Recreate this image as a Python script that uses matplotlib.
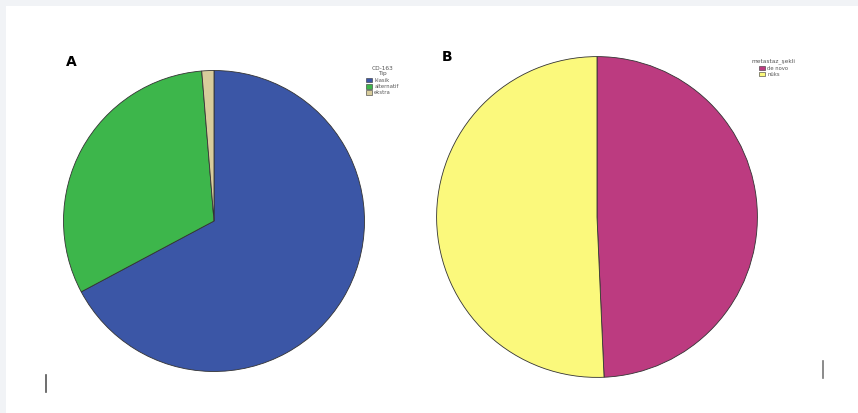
import matplotlib.pyplot as plt
from matplotlib.patches import Rectangle, Patch
from matplotlib.lines import Line2D

# panel A
a_labels = ["klasik", "alternatif", "ekstra"]
a_values = [67.2, 31.5, 1.3]
a_colors = ["#3b56a6", "#3db64b", "#d8cc9c"]

# panel B
b_labels = ["de novo", "nüks"]
b_values = [49.3, 50.7]
b_colors = ["#bc3b80", "#fbf97c"]

W, H = 858, 413
fig = plt.figure(figsize=(W / 100, H / 100), dpi=100)
fig.patch.set_facecolor("#f1f3f6")
fig.patches.append(Rectangle((6 / W, 0), 1, (H - 6) / H, transform=fig.transFigure,
                             facecolor="white", edgecolor="none", zorder=-5))


def pie_axes(cx, cy, r):
    ax = fig.add_axes([(cx - r) / W, (H - cy - r) / H, 2 * r / W, 2 * r / H])
    ax.set_zorder(2)
    return ax


axA = pie_axes(214, 221, 152)
axA.pie(a_values, colors=a_colors, startangle=90, counterclock=False,
        wedgeprops=dict(edgecolor="#333333", linewidth=0.6))
axA.set_xlim(-1.01, 1.01)
axA.set_ylim(-1.01, 1.01)

axB = pie_axes(597, 217, 162)
axB.pie(b_values, colors=b_colors, startangle=90, counterclock=False,
        wedgeprops=dict(edgecolor="#333333", linewidth=0.6))
axB.set_xlim(-1.01, 1.01)
axB.set_ylim(-1.01, 1.01)

fig.text(66 / W, 1 - 62 / H, "A", fontsize=10, fontweight="bold", va="center")
fig.text(442 / W, 1 - 57 / H, "B", fontsize=10, fontweight="bold", va="center")

legA = fig.legend([Patch(facecolor=c, edgecolor="#333333", linewidth=0.4) for c in a_colors],
                  a_labels, title="CD-163\nTip", loc="upper left",
                  bbox_to_anchor=(362 / W, 1 - 62 / H), fontsize=3.8, title_fontsize=4.2,
                  frameon=False, handlelength=1.2, handleheight=0.9, labelspacing=0.25,
                  handletextpad=0.4, borderpad=0.2)
legA.get_title().set_color("#555555")
legA.get_title().set_multialignment("center")
for t in legA.get_texts():
    t.set_color("#555555")

legB = fig.legend([Patch(facecolor=c, edgecolor="#333333", linewidth=0.4) for c in b_colors],
                  b_labels, title="metastaz_şekli", loc="upper left",
                  bbox_to_anchor=(748 / W, 1 - 55 / H), fontsize=3.8, title_fontsize=4.2,
                  frameon=False, handlelength=1.2, handleheight=0.9, labelspacing=0.25,
                  handletextpad=0.4, borderpad=0.2)
legB.get_title().set_color("#555555")
for t in legB.get_texts():
    t.set_color("#555555")

# small marks near bottom corners
fig.add_artist(Line2D([46 / W, 46 / W], [1 - 392 / H, 1 - 375 / H], color="#555555", linewidth=1.2))
fig.add_artist(Line2D([823 / W, 823 / W], [1 - 378 / H, 1 - 361 / H], color="#777777", linewidth=1.2))

fig.savefig("out.png", dpi=100, facecolor=fig.get_facecolor())
